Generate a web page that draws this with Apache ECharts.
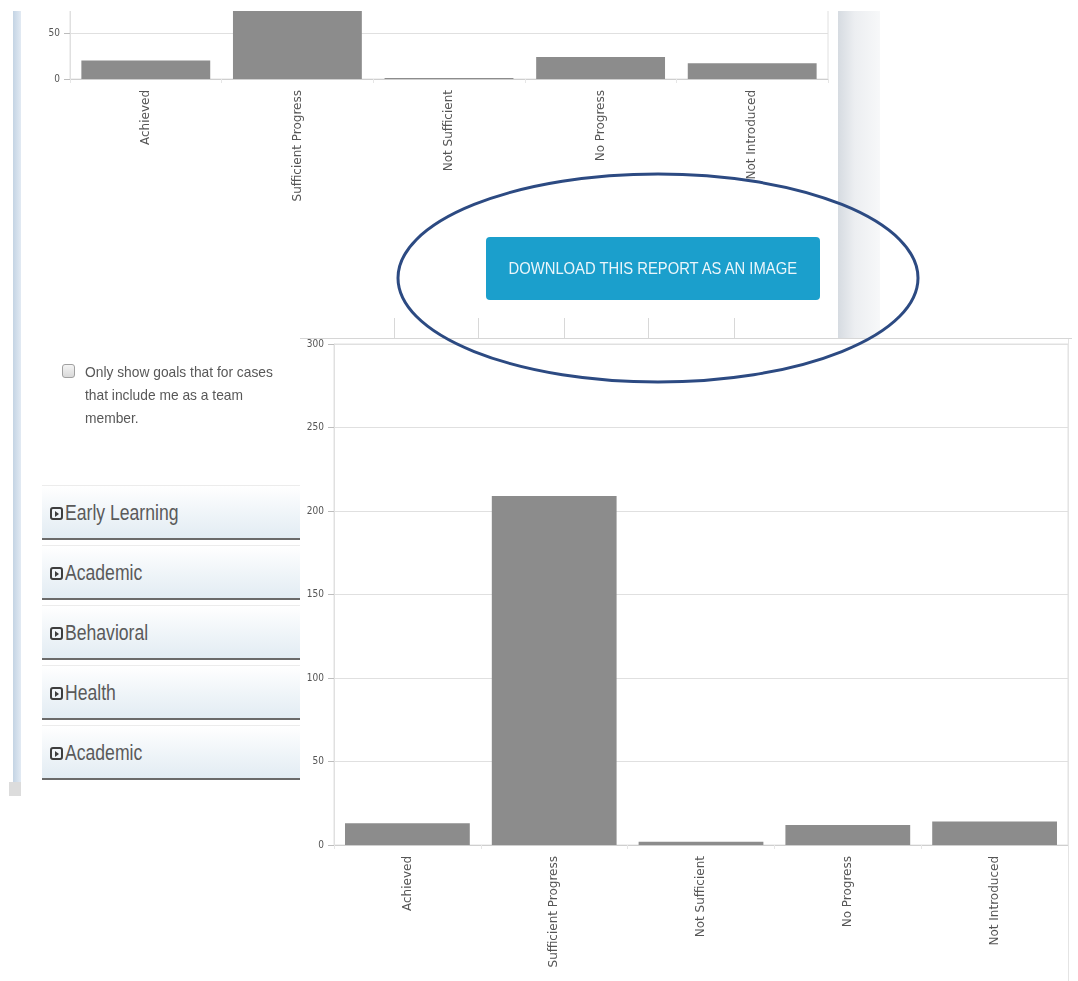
<!DOCTYPE html>
<html>
<head>
<meta charset="utf-8">
<script src="https://cdn.jsdelivr.net/npm/echarts@6/dist/echarts.min.js"></script>
<style>
  html, body { margin:0; padding:0; width:1078px; height:981px; background:#fff; overflow:hidden; position:relative; font-family:"Liberation Sans",Arial,sans-serif; }
  .abs { position:absolute; }
  #leftBar { left:13px; top:11px; width:8px; height:779px; background:linear-gradient(to right,#c4d4e4,#e2eaf3); }
  #leftFoot { left:9px; top:782px; width:12px; height:14px; background:#dcdcdc; }
  #topPanel { left:21px; top:11px; width:817px; height:327px; overflow:hidden; background:#fff; }
  #topChart { position:absolute; left:-1px; top:-60px; width:818px; height:400px; }
  #scrollBand { left:838px; top:11px; width:42px; height:327px; background:linear-gradient(to right,#d6dbe1,#eceef1 40%,#f7f8f9); }
  #button { left:486px; top:237px; width:334px; height:63px; background:#1b9fcc; border-radius:4px; color:#eaf6fb; font-size:17px; line-height:63px; text-align:center; }
  #button span { display:inline-block; transform:scaleX(0.87); white-space:nowrap; }
  .vtick { top:318px; width:1px; height:20px; background:#d8d8d8; }
  #hline { left:300px; top:338px; width:772px; height:1px; background:#d6d6d6; }
  #bottomPanel { left:300px; top:339px; width:772px; height:642px; overflow:hidden; background:#fff; }
  #bottomChart { position:absolute; left:0; top:0; width:772px; height:642px; }
  #rightEdge { left:1068px; top:339px; width:1px; height:642px; background:#e4e4e4; }
  #chk { left:62px; top:364px; width:11px; height:12px; border:1px solid #a0a0a0; border-radius:3px; background:linear-gradient(#f4f4f4,#d9d9d9); }
  #chkText { left:85px; top:360px; width:240px; font-size:15px; line-height:23px; color:#585858; transform:scaleX(0.92); transform-origin:0 0; }
  .item { left:42px; width:258px; height:52px; background:linear-gradient(to bottom,#ffffff 0%,#f3f7fa 40%,#e2ecf3 100%); border-top:1px solid #ececec; border-bottom:2px solid #6a6a6a; }
  .item span.t { position:absolute; left:23px; top:0; line-height:54px; font-size:22px; color:#5a5a5a; transform:scaleX(0.8); transform-origin:0 0; white-space:nowrap; }
  .item span.ic { position:absolute; left:8px; top:21px; width:9px; height:9px; border:2px solid #3e3e3e; border-radius:3px; }
  .item span.ic:after { content:""; position:absolute; left:3px; top:1.5px; border-left:4px solid #3e3e3e; border-top:3px solid transparent; border-bottom:3px solid transparent; }
  #ellipse { left:0; top:0; width:1078px; height:981px; pointer-events:none; z-index:50; }
</style>
</head>
<body>
<div id="leftBar" class="abs"></div>
<div id="leftFoot" class="abs"></div>
<div id="topPanel" class="abs"><div id="topChart"></div></div>
<div id="scrollBand" class="abs"></div>
<div id="button" class="abs"><span>DOWNLOAD THIS REPORT AS AN IMAGE</span></div>
<div class="abs vtick" style="left:394px"></div>
<div class="abs vtick" style="left:478px"></div>
<div class="abs vtick" style="left:564px"></div>
<div class="abs vtick" style="left:648px"></div>
<div class="abs vtick" style="left:734px"></div>
<div id="hline" class="abs"></div>
<div id="bottomPanel" class="abs"><div id="bottomChart"></div></div>
<div id="rightEdge" class="abs"></div>
<div id="chk" class="abs"></div>
<div id="chkText" class="abs">Only show goals that for cases<br>that include me as a team<br>member.</div>
<div id="items"></div>
<svg id="ellipse" class="abs" width="1078" height="981"><ellipse cx="658" cy="278" rx="260" ry="104" fill="none" stroke="#2c4a82" stroke-width="3"/></svg>
<script>
// ---- data ----
const categories = ['Achieved', 'Sufficient Progress', 'Not Sufficient', 'No Progress', 'Not Introduced'];
const topValues = [20, 150, 1, 24, 17];       // top (partially visible) chart
const bottomValues = [13, 209, 2, 12, 14];    // main chart
const sidebarItems = ['Early Learning', 'Academic', 'Behavioral', 'Health', 'Academic'];
const bottomAxisMax = 300;
const axisInterval = 50;

// ---- sidebar ----
const itemsHost = document.getElementById('items');
sidebarItems.forEach((name, i) => {
  const d = document.createElement('div');
  d.className = 'abs item';
  d.style.top = (485 + i * 60) + 'px';
  d.innerHTML = '<span class="ic"></span><span class="t">' + name + '</span>';
  itemsHost.appendChild(d);
});

function barOption(values, gridCfg, yMax) {
  return {
    animation: false,
    grid: Object.assign({ show: true, borderColor: '#e0e0e0', borderWidth: 1, backgroundColor: 'transparent' }, gridCfg),
    xAxis: {
      type: 'category',
      data: categories,
      axisLine: { lineStyle: { color: '#cfcfcf', width: 1 } },
      axisTick: { show: true, length: 4, lineStyle: { color: '#e6e6e6' } },
      axisLabel: { rotate: 90, margin: 11, color: '#555', fontFamily: 'DejaVu Sans', fontSize: 12 }
    },
    yAxis: {
      type: 'value', min: 0, max: yMax, interval: axisInterval,
      axisLine: { show: true, lineStyle: { color: '#e0e0e0' } },
      axisTick: { show: true, length: 6, lineStyle: { color: '#bdbdbd' } },
      axisLabel: { margin: 10, color: '#555', fontFamily: "'DejaVu Sans Condensed', 'Liberation Sans', sans-serif", fontSize: 10 },
      splitLine: { lineStyle: { color: '#e0e0e0' } }
    },
    series: [{
      type: 'bar', data: values, barCategoryGap: '15%', clip: true,
      itemStyle: { color: '#8c8c8c' }
    }]
  };
}

const topChart = echarts.init(document.getElementById('topChart'), null, { renderer: 'canvas' });
topChart.setOption(barOption(topValues, { left: 50, right: 10, top: 36, height: 92 }, 100));

const bottomChart = echarts.init(document.getElementById('bottomChart'), null, { renderer: 'canvas' });
bottomChart.setOption(barOption(bottomValues, { left: 34, right: 4, top: 2, height: 504 }, bottomAxisMax));
</script>
</body>
</html>
